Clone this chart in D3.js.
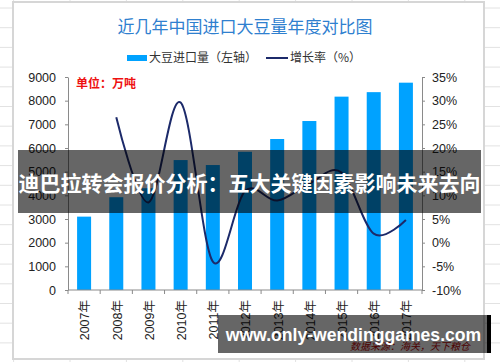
<!DOCTYPE html>
<html>
<head>
<meta charset="utf-8">
<script src="https://cdn.jsdelivr.net/npm/d3@7"></script>
<style>
  body { margin: 0; background: #fff; }
  svg { display: block; }
  text { font-family: "Liberation Sans", Arial, "Noto Sans CJK SC", sans-serif; }
  .cjk { font-family: "Noto Sans CJK SC", sans-serif; }
</style>
</head>
<body>
<figure id="chart" style="margin:0"></figure>
<script>
// data
const years = ['2007年', '2008年', '2009年', '2010年', '2011年', '2012年', '2013年', '2014年', '2015年', '2016年', '2017年'];
const imports = [3100, 3920, 4300, 5490, 5280, 5840, 6380, 7140, 8170, 8360, 8760];
const growth = [null, 26.5, 8.5, 29.6, -4.0, 10.9, 8.9, 12.5, 14.8, 1.9, 4.8];
const leftTicks = [0, 1000, 2000, 3000, 4000, 5000, 6000, 7000, 8000, 9000];
const rightTicks = [-10, -5, 0, 5, 10, 15, 20, 25, 30, 35];

const W = 500, H = 362;
const plot = { left: 68, right: 422, top: 77, bottom: 290 };
const barColor = '#00a2ff';
const lineColor = '#1c2a6a';
const axisColor = '#8a8a8a';

const svg = d3.select('#chart').append('svg')
  .attr('width', W)
  .attr('height', H);

// spreadsheet cell lines behind the chart
const cells = svg.append('g').attr('stroke', '#e2e2e2').attr('stroke-width', 1);
for (let cx = 13.6; cx < W; cx += 56.4) {
  cells.append('line').attr('x1', cx).attr('x2', cx).attr('y1', 0).attr('y2', H);
}
for (let cy = 8; cy < H; cy += 19.7) {
  cells.append('line').attr('x1', 0).attr('x2', W).attr('y1', cy).attr('y2', cy);
}

// chart frame
svg.append('rect')
  .attr('x', 13).attr('y', 2)
  .attr('width', 471).attr('height', 357)
  .attr('fill', '#fff')
  .attr('stroke', '#d6d6d6')
  .attr('stroke-width', 2);

// title
svg.append('text')
  .attr('class', 'cjk')
  .attr('x', 245).attr('y', 33)
  .attr('text-anchor', 'middle')
  .attr('font-size', 17)
  .attr('fill', '#2f80cf')
  .text('近几年中国进口大豆量年度对比图');

// legend
svg.append('rect')
  .attr('x', 127).attr('y', 55)
  .attr('width', 20).attr('height', 6)
  .attr('fill', barColor);
svg.append('text')
  .attr('class', 'cjk')
  .attr('x', 149).attr('y', 62)
  .attr('font-size', 12)
  .attr('fill', '#333')
  .text('大豆进口量（左轴）');
svg.append('line')
  .attr('x1', 266).attr('x2', 288)
  .attr('y1', 58).attr('y2', 58)
  .attr('stroke', lineColor)
  .attr('stroke-width', 2);
svg.append('text')
  .attr('class', 'cjk')
  .attr('x', 290).attr('y', 62)
  .attr('font-size', 12)
  .attr('fill', '#333')
  .text('增长率（%）');

// scales
const x = d3.scaleBand()
  .domain(years)
  .range([plot.left, plot.right])
  .paddingInner(0.565)
  .paddingOuter(0.2825);

const yL = d3.scaleLinear()
  .domain([0, 9000])
  .range([plot.bottom, plot.top]);

const yR = d3.scaleLinear()
  .domain([-10, 35])
  .range([plot.bottom, plot.top]);

// bars
svg.append('g').selectAll('rect')
  .data(years.map((y, i) => ({ year: y, value: imports[i] })))
  .enter()
  .append('rect')
  .attr('x', d => x(d.year))
  .attr('y', d => yL(d.value))
  .attr('width', x.bandwidth())
  .attr('height', d => plot.bottom - yL(d.value))
  .attr('fill', barColor);

// growth line, smoothed like the spreadsheet
const line = d3.line()
  .x(d => x(d.year) + x.bandwidth() / 2)
  .y(d => yR(d.value))
  .curve(d3.curveCardinal.tension(0));

svg.append('path')
  .datum(years.map((y, i) => ({ year: y, value: growth[i] })).filter(d => d.value !== null))
  .attr('d', line)
  .attr('fill', 'none')
  .attr('stroke', lineColor)
  .attr('stroke-width', 2);

// left axis
const gL = svg.append('g')
  .attr('transform', 'translate(' + plot.left + ',0)')
  .call(d3.axisLeft(yL).tickValues(leftTicks).tickSize(3).tickPadding(9).tickSizeOuter(0).tickFormat(d3.format('d')));

// right axis
const gR = svg.append('g')
  .attr('transform', 'translate(' + plot.right + ',0)')
  .call(d3.axisRight(yR).tickValues(rightTicks).tickSize(3).tickPadding(7).tickSizeOuter(0).tickFormat(d => d + '%'));

[gL, gR].forEach(g => {
  g.select('.domain').attr('stroke', axisColor);
  g.selectAll('.tick line').attr('stroke', axisColor);
  g.selectAll('.tick text')
    .attr('font-size', 12.5)
    .attr('font-family', '"Liberation Sans", Arial, sans-serif')
    .attr('fill', '#222');
});

// bottom axis: line, boundary ticks and rotated labels
const gB = svg.append('g');
gB.append('line')
  .attr('x1', plot.left).attr('x2', plot.right)
  .attr('y1', plot.bottom).attr('y2', plot.bottom)
  .attr('stroke', axisColor);
gB.selectAll('.btick')
  .data(d3.range(years.length + 1))
  .enter()
  .append('line')
  .attr('x1', i => plot.left + i * x.step())
  .attr('x2', i => plot.left + i * x.step())
  .attr('y1', plot.bottom)
  .attr('y2', plot.bottom + 4)
  .attr('stroke', axisColor);
gB.selectAll('.blabel')
  .data(years)
  .enter()
  .append('text')
  .attr('transform', d => 'translate(' + (x(d) + x.bandwidth() / 2 + 1) + ',' + (plot.bottom + 10) + ') rotate(-90)')
  .attr('text-anchor', 'end')
  .attr('dy', '0.35em')
  .attr('font-size', 12.5)
  .attr('fill', '#222')
  .text(d => d);

// unit label
svg.append('text')
  .attr('class', 'cjk')
  .attr('x', 76).attr('y', 88)
  .attr('font-size', 12)
  .attr('font-weight', 'bold')
  .attr('fill', '#ee1111')
  .text('单位：万吨');

// source note
svg.append('text')
  .attr('class', 'cjk')
  .attr('x', 350).attr('y', 350)
  .attr('font-size', 10)
  .attr('font-style', 'italic')
  .attr('fill', '#c00000')
  .text('数据来源：海关，天下粮仓');

// headline overlay
svg.append('rect')
  .attr('x', 18).attr('y', 150)
  .attr('width', 463).attr('height', 63)
  .attr('fill', 'rgba(0,0,0,0.6)');
svg.append('text')
  .attr('class', 'cjk')
  .attr('x', 249.5).attr('y', 191)
  .attr('text-anchor', 'middle')
  .attr('font-size', 21)
  .attr('font-weight', 'bold')
  .attr('fill', '#fff')
  .text('迪巴拉转会报价分析：五大关键因素影响未来去向');

// url overlay
svg.append('rect')
  .attr('x', 218).attr('y', 315)
  .attr('width', 269).attr('height', 38)
  .attr('fill', 'rgba(0,0,0,0.6)');
svg.append('rect')
  .attr('x', 487).attr('y', 315)
  .attr('width', 4).attr('height', 38)
  .attr('fill', '#000');
svg.append('text')
  .attr('x', 353.5).attr('y', 341)
  .attr('text-anchor', 'middle')
  .attr('font-family', '"Noto Sans", "Open Sans", sans-serif')
  .attr('font-size', 17.6)
  .attr('font-weight', 'bold')
  .attr('fill', '#fff')
  .text('www.only-wendinggames.com');
</script>
</body>
</html>
